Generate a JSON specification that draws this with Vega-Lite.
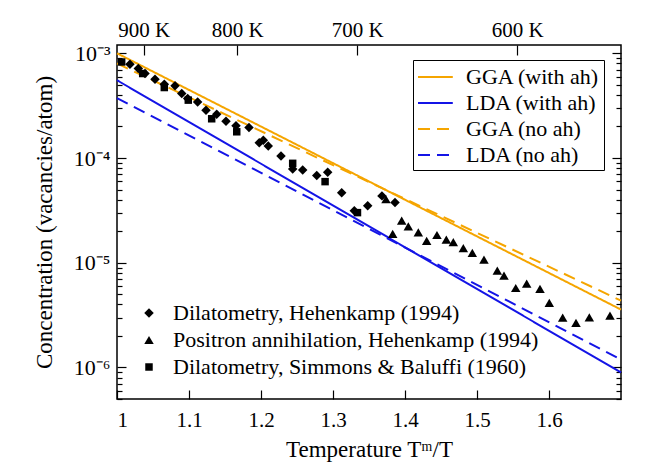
{
  "$schema": "https://vega.github.io/schema/vega-lite/v6.json",
  "width": 504,
  "height": 354,
  "autosize": {"type": "none"},
  "padding": {"left": 117, "top": 45, "right": 48, "bottom": 74},
  "background": "white",
  "config": {
    "font": "Liberation Serif",
    "view": {"stroke": "black", "strokeWidth": 1.5},
    "axis": {
      "domain": false, "grid": false,
      "labelFont": "Liberation Serif", "titleFont": "Liberation Serif",
      "labelFontSize": 21, "titleFontSize": 23, "titleFontWeight": "normal",
      "labelColor": "black", "titleColor": "black", "tickColor": "black", "tickWidth": 1.2
    },
    "legend": {"labelFont": "Liberation Serif", "labelFontSize": 22, "labelColor": "black", "labelLimit": 600}
  },
  "datasets": {
    "lines": [
      {"series": "GGA (with ah)", "x": 1.0, "y": 0.00100},
      {"series": "GGA (with ah)", "x": 1.7, "y": 0.00000357},
      {"series": "LDA (with ah)", "x": 1.0, "y": 0.000553},
      {"series": "LDA (with ah)", "x": 1.7, "y": 0.000000896},
      {"series": "GGA (no ah)", "x": 1.0, "y": 0.000800},
      {"series": "GGA (no ah)", "x": 1.7, "y": 0.00000435},
      {"series": "LDA (no ah)", "x": 1.0, "y": 0.000373},
      {"series": "LDA (no ah)", "x": 1.7, "y": 0.00000119}
    ],
    "points": [
      {"source": "Dilatometry, Simmons & Baluffi (1960)", "x": 1.0065, "y": 0.000826},
      {"source": "Dilatometry, Simmons & Baluffi (1960)", "x": 1.0357, "y": 0.000641},
      {"source": "Dilatometry, Simmons & Baluffi (1960)", "x": 1.0657, "y": 0.000471},
      {"source": "Dilatometry, Simmons & Baluffi (1960)", "x": 1.099, "y": 0.000357},
      {"source": "Dilatometry, Simmons & Baluffi (1960)", "x": 1.1315, "y": 0.000237},
      {"source": "Dilatometry, Simmons & Baluffi (1960)", "x": 1.1663, "y": 0.000178},
      {"source": "Dilatometry, Simmons & Baluffi (1960)", "x": 1.244, "y": 0.000089},
      {"source": "Dilatometry, Simmons & Baluffi (1960)", "x": 1.289, "y": 0.0000595},
      {"source": "Dilatometry, Simmons & Baluffi (1960)", "x": 1.334, "y": 0.0000301},
      {"source": "Dilatometry, Hehenkamp (1994)", "x": 1.018, "y": 0.000786},
      {"source": "Dilatometry, Hehenkamp (1994)", "x": 1.0296, "y": 0.000715},
      {"source": "Dilatometry, Hehenkamp (1994)", "x": 1.0389, "y": 0.000641},
      {"source": "Dilatometry, Hehenkamp (1994)", "x": 1.0528, "y": 0.000565},
      {"source": "Dilatometry, Hehenkamp (1994)", "x": 1.0657, "y": 0.000507},
      {"source": "Dilatometry, Hehenkamp (1994)", "x": 1.0806, "y": 0.000489},
      {"source": "Dilatometry, Hehenkamp (1994)", "x": 1.0899, "y": 0.000413},
      {"source": "Dilatometry, Hehenkamp (1994)", "x": 1.0982, "y": 0.000371},
      {"source": "Dilatometry, Hehenkamp (1994)", "x": 1.112, "y": 0.000342},
      {"source": "Dilatometry, Hehenkamp (1994)", "x": 1.1236, "y": 0.000286},
      {"source": "Dilatometry, Hehenkamp (1994)", "x": 1.1385, "y": 0.000262},
      {"source": "Dilatometry, Hehenkamp (1994)", "x": 1.1514, "y": 0.000224},
      {"source": "Dilatometry, Hehenkamp (1994)", "x": 1.1653, "y": 0.000203},
      {"source": "Dilatometry, Hehenkamp (1994)", "x": 1.1833, "y": 0.000196},
      {"source": "Dilatometry, Hehenkamp (1994)", "x": 1.1976, "y": 0.000140},
      {"source": "Dilatometry, Hehenkamp (1994)", "x": 1.2032, "y": 0.000148},
      {"source": "Dilatometry, Hehenkamp (1994)", "x": 1.2101, "y": 0.000130},
      {"source": "Dilatometry, Hehenkamp (1994)", "x": 1.2278, "y": 0.0001045},
      {"source": "Dilatometry, Hehenkamp (1994)", "x": 1.244, "y": 0.0000786},
      {"source": "Dilatometry, Hehenkamp (1994)", "x": 1.2579, "y": 0.0000769},
      {"source": "Dilatometry, Hehenkamp (1994)", "x": 1.2774, "y": 0.0000681},
      {"source": "Dilatometry, Hehenkamp (1994)", "x": 1.2926, "y": 0.0000731},
      {"source": "Dilatometry, Hehenkamp (1994)", "x": 1.3121, "y": 0.0000467},
      {"source": "Dilatometry, Hehenkamp (1994)", "x": 1.3296, "y": 0.0000313},
      {"source": "Dilatometry, Hehenkamp (1994)", "x": 1.3482, "y": 0.0000351},
      {"source": "Dilatometry, Hehenkamp (1994)", "x": 1.368, "y": 0.0000435},
      {"source": "Dilatometry, Hehenkamp (1994)", "x": 1.3861, "y": 0.0000377},
      {"source": "Positron annihilation, Hehenkamp (1994)", "x": 1.3736, "y": 0.0000404},
      {"source": "Positron annihilation, Hehenkamp (1994)", "x": 1.3829, "y": 0.0000189},
      {"source": "Positron annihilation, Hehenkamp (1994)", "x": 1.3954, "y": 0.0000253},
      {"source": "Positron annihilation, Hehenkamp (1994)", "x": 1.4046, "y": 0.0000222},
      {"source": "Positron annihilation, Hehenkamp (1994)", "x": 1.4185, "y": 0.0000195},
      {"source": "Positron annihilation, Hehenkamp (1994)", "x": 1.4301, "y": 0.0000162},
      {"source": "Positron annihilation, Hehenkamp (1994)", "x": 1.4444, "y": 0.0000184},
      {"source": "Positron annihilation, Hehenkamp (1994)", "x": 1.4574, "y": 0.0000166},
      {"source": "Positron annihilation, Hehenkamp (1994)", "x": 1.4671, "y": 0.0000157},
      {"source": "Positron annihilation, Hehenkamp (1994)", "x": 1.481, "y": 0.0000138},
      {"source": "Positron annihilation, Hehenkamp (1994)", "x": 1.4935, "y": 0.0000124},
      {"source": "Positron annihilation, Hehenkamp (1994)", "x": 1.5097, "y": 0.0000107},
      {"source": "Positron annihilation, Hehenkamp (1994)", "x": 1.5282, "y": 0.00000839},
      {"source": "Positron annihilation, Hehenkamp (1994)", "x": 1.5375, "y": 0.00000752},
      {"source": "Positron annihilation, Hehenkamp (1994)", "x": 1.5538, "y": 0.00000574},
      {"source": "Positron annihilation, Hehenkamp (1994)", "x": 1.569, "y": 0.00000631},
      {"source": "Positron annihilation, Hehenkamp (1994)", "x": 1.5875, "y": 0.00000562},
      {"source": "Positron annihilation, Hehenkamp (1994)", "x": 1.6004, "y": 0.00000413},
      {"source": "Positron annihilation, Hehenkamp (1994)", "x": 1.619, "y": 0.00000299},
      {"source": "Positron annihilation, Hehenkamp (1994)", "x": 1.6375, "y": 0.00000267},
      {"source": "Positron annihilation, Hehenkamp (1994)", "x": 1.656, "y": 0.00000301},
      {"source": "Positron annihilation, Hehenkamp (1994)", "x": 1.6847, "y": 0.00000313}
    ]
  },
  "layer": [
    {
      "data": {"name": "lines"},
      "mark": {"type": "line", "strokeWidth": 2},
      "encoding": {
        "x": {
          "field": "x", "type": "quantitative",
          "scale": {"domain": [1, 1.7], "nice": false, "zero": false},
          "axis": {"orient": "bottom", "values": [1, 1.1, 1.2, 1.3, 1.4, 1.5, 1.6], "format": "~g",
                   "tickSize": -9, "labelPadding": 19, "title": "Temperature Tᵐ/T", "titlePadding": 8, "offset": 0}
        },
        "y": {
          "field": "y", "type": "quantitative",
          "scale": {"type": "log", "domain": [5e-7, 0.0012], "nice": false},
          "axis": {"orient": "left", "values": [0.000001, 0.00001, 0.0001, 0.001],
                   "labelExpr": "datum.value > 5e-4 ? '10⁻³' : datum.value > 5e-5 ? '10⁻⁴' : datum.value > 5e-6 ? '10⁻⁵' : '10⁻⁶'",
                   "labelFontSize": 22, "tickSize": -9, "labelPadding": 16, "title": "Concentration (vacancies/atom)", "titlePadding": 17, "offset": 0}
        },
        "color": {
          "field": "series", "type": "nominal",
          "scale": {"domain": ["GGA (with ah)", "LDA (with ah)", "GGA (no ah)", "LDA (no ah)"],
                    "range": ["#f5a500", "#1414e6", "#f5a500", "#1414e6"]},
          "legend": {"title": null, "orient": "none", "legendX": 296, "legendY": 15, "strokeColor": "black",
                     "fillColor": "white", "padding": 4, "symbolType": "M-1,0H1.9", "symbolSize": 576,
                     "symbolStrokeWidth": 2, "rowPadding": 2, "labelOffset": 23}
        },
        "strokeDash": {
          "field": "series", "type": "nominal",
          "scale": {"domain": ["GGA (with ah)", "LDA (with ah)", "GGA (no ah)", "LDA (no ah)"],
                    "range": [[1, 0], [1, 0], [12, 7], [12, 7]]},
          "legend": {"title": null, "orient": "none", "legendX": 296, "legendY": 15, "strokeColor": "black",
                     "fillColor": "white", "padding": 4, "symbolType": "M-1,0H1.9", "symbolSize": 576,
                     "symbolStrokeWidth": 2, "rowPadding": 2, "labelOffset": 23}
        }
      }
    },
    {
      "data": {"name": "points"},
      "mark": {"type": "point", "filled": true, "color": "black", "opacity": 1, "strokeWidth": 0},
      "encoding": {
        "x": {
          "field": "x", "type": "quantitative",
          "axis": {"orient": "top", "values": [1.03719, 1.16684, 1.33353, 1.55578],
                   "labelExpr": "round(933.47 / datum.value) + ' K'", "tickSize": -10, "labelPadding": 15, "title": null, "offset": 0}
        },
        "y": {
          "field": "y", "type": "quantitative",
          "axis": {"orient": "right", "values": [0.000001, 0.00001, 0.0001, 0.001], "tickSize": -9, "labels": false, "title": null, "offset": 0}
        },
        "shape": {
          "field": "source", "type": "nominal",
          "scale": {"domain": ["Dilatometry, Hehenkamp (1994)", "Positron annihilation, Hehenkamp (1994)", "Dilatometry, Simmons & Baluffi (1960)"],
                    "range": ["diamond", "triangle-up", "square"]},
          "legend": {"title": null, "orient": "none", "legendX": 21, "legendY": 257, "padding": 0,
                     "symbolFillColor": "black", "symbolStrokeColor": "black", "symbolStrokeWidth": 0,
                     "rowPadding": 5, "labelOffset": 13, "labelLimit": 600}
        },
        "size": {
          "field": "source", "type": "nominal",
          "scale": {"type": "ordinal", "domain": ["Dilatometry, Hehenkamp (1994)", "Positron annihilation, Hehenkamp (1994)", "Dilatometry, Simmons & Baluffi (1960)"],
                    "range": [90, 90, 56]},
          "legend": {"title": null, "orient": "none", "legendX": 21, "legendY": 257, "padding": 0,
                     "symbolFillColor": "black", "symbolStrokeColor": "black", "symbolStrokeWidth": 0,
                     "rowPadding": 5, "labelOffset": 13, "labelLimit": 600}
        }
      }
    },
    {
      "data": {"name": "points"},
      "mark": {"type": "point", "opacity": 0},
      "encoding": {
        "x": {"field": "x", "type": "quantitative", "axis": null},
        "y": {
          "field": "y", "type": "quantitative",
          "axis": {"orient": "left", "values": [5e-7, 6e-7, 7e-7, 8e-7, 9e-7, 2e-6, 3e-6, 4e-6, 5e-6, 6e-6, 7e-6, 8e-6, 9e-6, 2e-5, 3e-5, 4e-5, 5e-5, 6e-5, 7e-5, 8e-5, 9e-5, 2e-4, 3e-4, 4e-4, 5e-4, 6e-4, 7e-4, 8e-4, 9e-4],
                   "tickSize": -5, "labels": false, "title": null, "offset": 0}
        }
      }
    },
    {
      "data": {"name": "points"},
      "mark": {"type": "point", "opacity": 0},
      "encoding": {
        "x": {"field": "x", "type": "quantitative", "axis": null},
        "y": {
          "field": "y", "type": "quantitative",
          "axis": {"orient": "right", "values": [5e-7, 6e-7, 7e-7, 8e-7, 9e-7, 2e-6, 3e-6, 4e-6, 5e-6, 6e-6, 7e-6, 8e-6, 9e-6, 2e-5, 3e-5, 4e-5, 5e-5, 6e-5, 7e-5, 8e-5, 9e-5, 2e-4, 3e-4, 4e-4, 5e-4, 6e-4, 7e-4, 8e-4, 9e-4],
                   "tickSize": -5, "labels": false, "title": null, "offset": 0}
        }
      }
    }
  ],
  "resolve": {"axis": {"x": "independent", "y": "independent"}}
}
